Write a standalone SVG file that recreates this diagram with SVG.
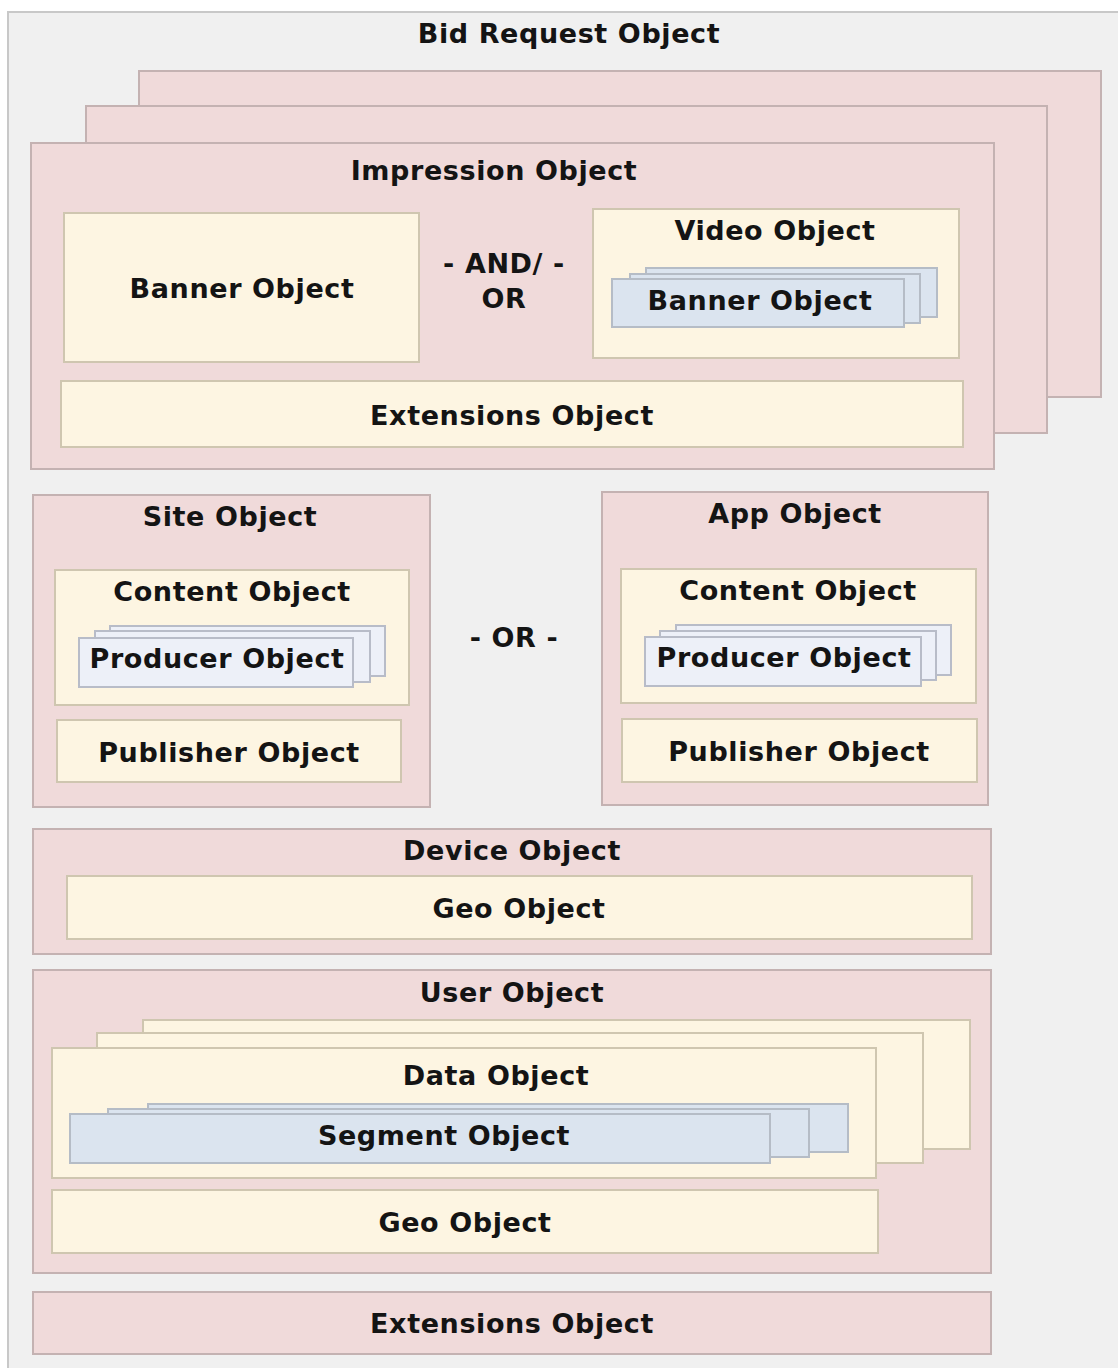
<svg xmlns="http://www.w3.org/2000/svg" width="1118" height="1368" viewBox="0 0 1118 1368">
<style>
.bg{fill:#f0f0f0;stroke:#c8c8c8;stroke-width:2}
.pk{fill:#f0dada;stroke:#c4b2b2;stroke-width:2}
.cr{fill:#fdf5e2;stroke:#cfc6b0;stroke-width:2}
.bl{fill:#dbe4ef;stroke:#b5bcc6;stroke-width:2}
.lv{fill:#edf0f8;stroke:#b8bcc8;stroke-width:2}
text{font-family:"DejaVu Sans",Verdana,sans-serif;font-weight:bold;font-size:27px;letter-spacing:0.6px;fill:#141414;text-anchor:middle}
</style>
<rect class="bg" x="8" y="12" width="1122" height="1372"/>
<text x="569" y="43">Bid Request Object</text>

<g id="impression">
<rect class="pk" x="139" y="71" width="962" height="326"/>
<rect class="pk" x="86" y="106" width="961" height="327"/>
<rect class="pk" x="31" y="143" width="963" height="326"/>
<text x="494" y="180">Impression Object</text>
</g>
<g id="banner">
<rect class="cr" x="64" y="213" width="355" height="149"/>
<text x="242" y="298">Banner Object</text>
</g>
<g id="andor">
<text x="504" y="273">- AND/ -</text>
<text x="504" y="308">OR</text>
</g>
<g id="video">
<rect class="cr" x="593" y="209" width="366" height="149"/>
<text x="775" y="240">Video Object</text>
</g>
<g id="video-banner">
<rect class="bl" x="646" y="268" width="291" height="49"/>
<rect class="bl" x="630" y="274" width="290" height="49"/>
<rect class="bl" x="612" y="279" width="292" height="48"/>
<text x="760" y="310">Banner Object</text>
</g>
<g id="imp-extensions">
<rect class="cr" x="61" y="381" width="902" height="66"/>
<text x="512" y="425">Extensions Object</text>
</g>

<g id="site">
<rect class="pk" x="33" y="495" width="397" height="312"/>
<text x="230" y="526">Site Object</text>
</g>
<g id="site-content">
<rect class="cr" x="55" y="570" width="354" height="135"/>
<text x="232" y="601">Content Object</text>
</g>
<g id="site-producer">
<rect class="lv" x="110" y="626" width="275" height="50"/>
<rect class="lv" x="95" y="631" width="275" height="51"/>
<rect class="lv" x="79" y="638" width="274" height="49"/>
<text x="217" y="668">Producer Object</text>
</g>
<g id="site-publisher">
<rect class="cr" x="57" y="720" width="344" height="62"/>
<text x="229" y="762">Publisher Object</text>
</g>

<g id="or">
<text x="514" y="647">- OR -</text>
</g>

<g id="app">
<rect class="pk" x="602" y="492" width="386" height="313"/>
<text x="795" y="523">App Object</text>
</g>
<g id="app-content">
<rect class="cr" x="621" y="569" width="355" height="134"/>
<text x="798" y="600">Content Object</text>
</g>
<g id="app-producer">
<rect class="lv" x="676" y="625" width="275" height="50"/>
<rect class="lv" x="660" y="631" width="276" height="49"/>
<rect class="lv" x="645" y="637" width="276" height="49"/>
<text x="784" y="667">Producer Object</text>
</g>
<g id="app-publisher">
<rect class="cr" x="622" y="719" width="355" height="63"/>
<text x="799" y="761">Publisher Object</text>
</g>

<g id="device">
<rect class="pk" x="33" y="829" width="958" height="125"/>
<text x="512" y="860">Device Object</text>
</g>
<g id="device-geo">
<rect class="cr" x="67" y="876" width="905" height="63"/>
<text x="519" y="918">Geo Object</text>
</g>

<g id="user">
<rect class="pk" x="33" y="970" width="958" height="303"/>
<text x="512" y="1002">User Object</text>
</g>
<g id="data">
<rect class="cr" x="143" y="1020" width="827" height="129"/>
<rect class="cr" x="97" y="1033" width="826" height="130"/>
<rect class="cr" x="52" y="1048" width="824" height="130"/>
<text x="496" y="1085">Data Object</text>
</g>
<g id="segment">
<rect class="bl" x="148" y="1104" width="700" height="48"/>
<rect class="bl" x="108" y="1109" width="701" height="48"/>
<rect class="bl" x="70" y="1114" width="700" height="49"/>
<text x="444" y="1145">Segment Object</text>
</g>
<g id="user-geo">
<rect class="cr" x="52" y="1190" width="826" height="63"/>
<text x="465" y="1232">Geo Object</text>
</g>

<g id="extensions">
<rect class="pk" x="33" y="1292" width="958" height="62"/>
<text x="512" y="1333">Extensions Object</text>
</g>
<g id="connectors"></g>
</svg>
